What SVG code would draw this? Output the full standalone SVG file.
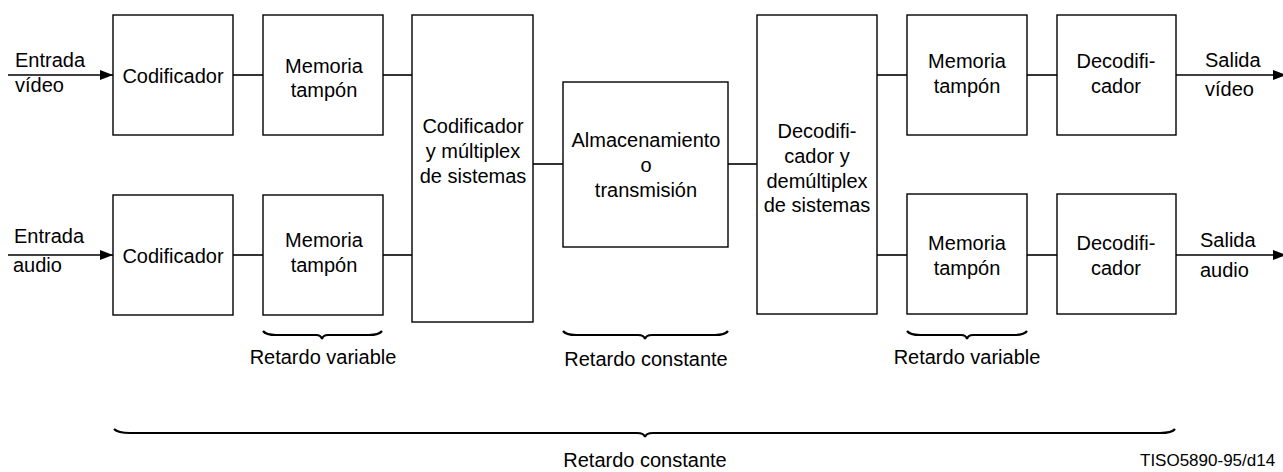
<svg xmlns="http://www.w3.org/2000/svg" width="1283" height="472" viewBox="0 0 1283 472">
<defs>
<style>
.box{fill:#fff;stroke:#000;stroke-width:1.4}
.ln{stroke:#000;stroke-width:1.6;fill:none}
.br{stroke:#000;stroke-width:2.2;fill:none}
text{font-family:"Liberation Sans",Arial,sans-serif;font-size:20px;fill:#000}
.c{text-anchor:middle}
.sm{font-size:17px}
</style>
<marker id="ah" viewBox="0 0 13 10" refX="13" refY="5" markerWidth="13" markerHeight="10" markerUnits="userSpaceOnUse" orient="auto">
<path d="M0,0 L13,5 L0,10 z" fill="#000"/>
</marker>
</defs>
<g id="connectors">
<line class="ln" x1="8" y1="75" x2="113" y2="75" marker-end="url(#ah)"/>
<line class="ln" x1="8" y1="255" x2="113" y2="255" marker-end="url(#ah)"/>
<line class="ln" x1="233" y1="75" x2="263" y2="75"/>
<line class="ln" x1="233" y1="255" x2="263" y2="255"/>
<line class="ln" x1="383" y1="75" x2="412" y2="75"/>
<line class="ln" x1="383" y1="255" x2="412" y2="255"/>
<line class="ln" x1="533" y1="164" x2="563" y2="164"/>
<line class="ln" x1="728" y1="164" x2="757" y2="164"/>
<line class="ln" x1="877" y1="75" x2="907" y2="75"/>
<line class="ln" x1="877" y1="255" x2="907" y2="255"/>
<line class="ln" x1="1027" y1="75" x2="1057" y2="75"/>
<line class="ln" x1="1027" y1="255" x2="1057" y2="255"/>
<line class="ln" x1="1176" y1="75" x2="1286" y2="75" marker-end="url(#ah)"/>
<line class="ln" x1="1176" y1="255" x2="1286" y2="255" marker-end="url(#ah)"/>
</g>
<g id="labels">
<text x="15" y="67">Entrada</text>
<text x="15" y="92">vídeo</text>
<text x="14" y="243">Entrada</text>
<text x="13" y="272">audio</text>
<text x="1205" y="67">Salida</text>
<text x="1205" y="96">vídeo</text>
<text x="1200" y="247">Salida</text>
<text x="1200" y="277">audio</text>
</g>
<g id="cod-video"><rect class="box" x="113" y="15" width="120" height="120"/><text class="c" x="173" y="83">Codificador</text></g>
<g id="mem-video-in"><rect class="box" x="263" y="15" width="120" height="120"/><text class="c" x="324" y="73">Memoria</text><text class="c" x="324" y="97">tampón</text></g>
<g id="cod-audio"><rect class="box" x="113" y="195" width="120" height="120"/><text class="c" x="173" y="263">Codificador</text></g>
<g id="mem-audio-in"><rect class="box" x="263" y="195" width="120" height="120"/><text class="c" x="324" y="247">Memoria</text><text class="c" x="324" y="272">tampón</text></g>
<g id="mux"><rect class="box" x="412" y="15" width="121" height="307"/><text class="c" x="473" y="133">Codificador</text><text class="c" x="473" y="158">y múltiplex</text><text class="c" x="473" y="183">de sistemas</text></g>
<g id="storage"><rect class="box" x="563" y="82" width="165" height="165"/><text class="c" x="646" y="147">Almacenamiento</text><text class="c" x="646" y="172">o</text><text class="c" x="646" y="197">transmisión</text></g>
<g id="demux"><rect class="box" x="757" y="15" width="120" height="299"/><text class="c" x="817" y="138">Decodifi-</text><text class="c" x="817" y="163">cador y</text><text class="c" x="817" y="188">demúltiplex</text><text class="c" x="817" y="212">de sistemas</text></g>
<g id="mem-video-out"><rect class="box" x="907" y="15" width="120" height="120"/><text class="c" x="967" y="68">Memoria</text><text class="c" x="967" y="93">tampón</text></g>
<g id="dec-video"><rect class="box" x="1057" y="15" width="119" height="120"/><text class="c" x="1116" y="68">Decodifi-</text><text class="c" x="1116" y="93">cador</text></g>
<g id="mem-audio-out"><rect class="box" x="907" y="194" width="120" height="120"/><text class="c" x="967" y="250">Memoria</text><text class="c" x="967" y="275">tampón</text></g>
<g id="dec-audio"><rect class="box" x="1057" y="194" width="119" height="120"/><text class="c" x="1116" y="250">Decodifi-</text><text class="c" x="1116" y="275">cador</text></g>
<g id="braces">
<path class="br" d="M263,331 Q266,335 276,335 L316,335 Q321,335 322,339 Q323,335 328,335 L369,335 Q379,335 382,331"/>
<text class="c" x="323" y="364">Retardo variable</text>
<path class="br" d="M563,331 Q566,335 576,335 L638,335 Q644,335 645,339 Q646,335 652,335 L715,335 Q725,335 728,331"/>
<text class="c" x="646" y="366">Retardo constante</text>
<path class="br" d="M907,331 Q910,335 920,335 L961,335 Q966,335 967,339 Q968,335 973,335 L1014,335 Q1024,335 1027,331"/>
<text class="c" x="967" y="364">Retardo variable</text>
<path class="br" d="M114,429 Q118,433 130,433 L637,433 Q644,433 645,437 Q646,433 653,433 L1160,433 Q1172,433 1175,429"/>
<text class="c" x="645" y="467">Retardo constante</text>
<text class="sm" x="1140" y="466">TISO5890-95/d14</text>
</g>
</svg>
